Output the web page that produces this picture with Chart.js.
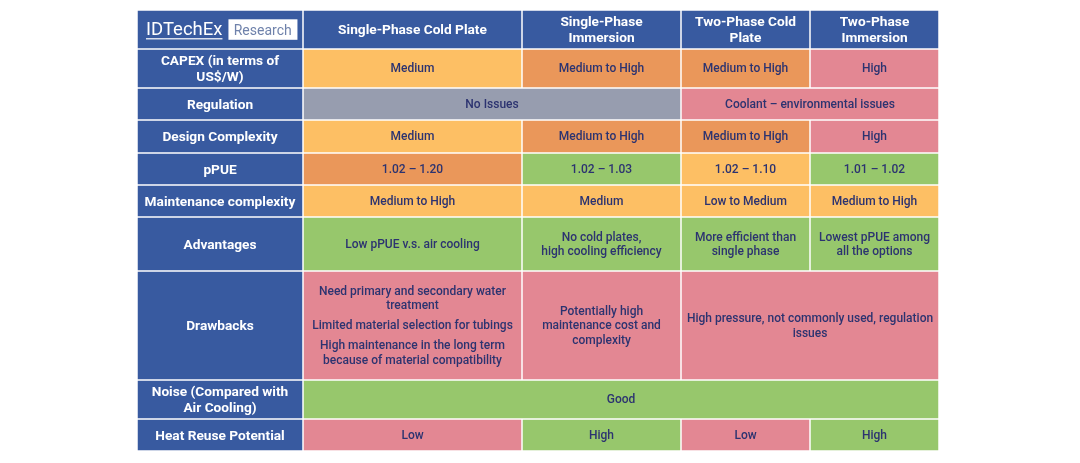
<!DOCTYPE html>
<html><head><meta charset="utf-8">
<script src="https://cdn.jsdelivr.net/npm/chart.js@4"></script>
<style>html,body{margin:0;padding:0;background:#fff;}#wrap{width:1080px;height:463px;position:relative;}</style>
</head><body><div id="wrap"><canvas id="c"></canvas></div>
<script>
// ---- data ----
const brand = 'IDTechEx';
const brandTag = 'Research';
const columns = ['Single-Phase Cold Plate', 'Single-Phase\nImmersion', 'Two-Phase Cold\nPlate', 'Two-Phase\nImmersion'];
const rowLabels = ['CAPEX (in terms of\nUS$/W)', 'Regulation', 'Design Complexity', 'pPUE', 'Maintenance complexity', 'Advantages', 'Drawbacks', 'Noise (Compared with\nAir Cooling)', 'Heat Reuse Potential'];
// each cell: [text, column span, rating]
const capex = [['Medium', 1, 'mid'], ['Medium to High', 1, 'midHigh'], ['Medium to High', 1, 'midHigh'], ['High', 1, 'high']];
const regulation = [['No Issues', 2, 'neutral'], ['Coolant – environmental issues', 2, 'high']];
const designComplexity = [['Medium', 1, 'mid'], ['Medium to High', 1, 'midHigh'], ['Medium to High', 1, 'midHigh'], ['High', 1, 'high']];
const pPUE = [['1.02 – 1.20', 1, 'midHigh'], ['1.02 – 1.03', 1, 'good'], ['1.02 – 1.10', 1, 'mid'], ['1.01 – 1.02', 1, 'good']];
const maintenance = [['Medium to High', 1, 'mid'], ['Medium', 1, 'mid'], ['Low to Medium', 1, 'mid'], ['Medium to High', 1, 'mid']];
const advantages = [['Low pPUE v.s. air cooling', 1, 'good'], ['No cold plates,\nhigh cooling efficiency', 1, 'good'], ['More efficient than\nsingle phase', 1, 'good'], ['Lowest pPUE among\nall the options', 1, 'good']];
const drawbacks = [['Need primary and secondary water\ntreatment|Limited material selection for tubings|High maintenance in the long term\nbecause of material compatibility', 1, 'high'], ['Potentially high\nmaintenance cost and\ncomplexity', 1, 'high'], ['High pressure, not commonly used, regulation\nissues', 2, 'high']];
const noise = [['Good', 4, 'good']];
const heatReuse = [['Low', 1, 'high'], ['High', 1, 'good'], ['Low', 1, 'high'], ['High', 1, 'good']];
const tableRows = [capex, regulation, designComplexity, pPUE, maintenance, advantages, drawbacks, noise, heatReuse];

// ---- layout & style ----
const colWidths = [166, 219, 159, 129, 129];
const rowHeights = [39, 39, 32, 33, 32, 32, 54, 109, 39, 32];
const ratingColors = { mid: '#fdbf64', midHigh: '#ea975a', high: '#e38793', neutral: '#979daf', good: '#97c76c' };
const headerBlue = '#385aa0';
const cellText = '#2c3370';
const FONT = 'Roboto, "Open Sans", sans-serif';

const colEdges = [0]; colWidths.forEach(w => colEdges.push(colEdges[colEdges.length - 1] + w));
const rowEdges = [0]; rowHeights.forEach(h => rowEdges.push(rowEdges[rowEdges.length - 1] + h));

// cell centres as an (invisible) dataset so the scales carry the table
const cellPoints = [];
tableRows.forEach((row, r) => { let c = 1; row.forEach(cell => { cellPoints.push({ x: (colEdges[c] + colEdges[c + cell[1]]) / 2, y: (rowEdges[r + 1] + rowEdges[r + 2]) / 2 }); c += cell[1]; }); });

function drawLines(ctx, text, cx, cy, lh, pgap) {
  const paras = text.split('|').map(p => p.split('\n'));
  let total = 0; paras.forEach((p, i) => { total += p.length * lh + (i ? pgap : 0); });
  let y = cy - total / 2 + lh / 2;
  paras.forEach((p, i) => { if (i) y += pgap; p.forEach(l => { ctx.fillText(l, cx, y); y += lh; }); });
}

const tablePlugin = {
  id: 'tablePlugin',
  beforeDatasetsDraw(chart) {
    const { ctx, scales: { x, y } } = chart;
    const rect = (c0, c1, r0, r1, color) => {
      const xa = x.getPixelForValue(colEdges[c0]), xb = x.getPixelForValue(colEdges[c1]);
      const ya = y.getPixelForValue(rowEdges[r0]), yb = y.getPixelForValue(rowEdges[r1]);
      ctx.fillStyle = color;
      ctx.fillRect(xa + 0.75, ya + 0.75, xb - xa - 1.5, yb - ya - 1.5);
      return { cx: (xa + xb) / 2, cy: (ya + yb) / 2, x0: xa };
    };
    ctx.save();
    ctx.textAlign = 'center'; ctx.textBaseline = 'middle';
    // header row
    const logo = rect(0, 1, 0, 1, headerBlue);
    columns.forEach((name, i) => {
      const p = rect(i + 1, i + 2, 0, 1, headerBlue);
      ctx.fillStyle = '#ffffff'; ctx.font = `bold 13.7px ${FONT}`;
      drawLines(ctx, name, p.cx, p.cy + 1.5, 16, 0);
    });
    // logo
    ctx.textAlign = 'left'; ctx.textBaseline = 'alphabetic';
    ctx.fillStyle = '#ffffff'; ctx.font = `18.5px ${FONT}`;
    const lx = logo.x0 + 9;
    const base = logo.cy + 5.3;
    ctx.fillText(brand, lx, base);
    const bw = ctx.measureText(brand).width;
    ctx.fillRect(lx, base + 3.4, bw, 1.2);
    const boxX = lx + bw + 6;
    ctx.fillRect(boxX, base - 15.5, 69, 20.5);
    ctx.fillStyle = '#6f82ab'; ctx.font = `14px ${FONT}`;
    ctx.fillText(brandTag, boxX + 5.3, base);
    ctx.textAlign = 'center'; ctx.textBaseline = 'middle';
    // body rows
    tableRows.forEach((row, r) => {
      const p = rect(0, 1, r + 1, r + 2, headerBlue);
      ctx.fillStyle = '#ffffff'; ctx.font = `bold 13.7px ${FONT}`;
      drawLines(ctx, rowLabels[r], p.cx, p.cy + 1.3, 16, 0);
      let c = 1;
      row.forEach(cell => {
        const q = rect(c, c + cell[1], r + 1, r + 2, ratingColors[cell[2]]);
        ctx.fillStyle = cellText; ctx.font = `500 12px ${FONT}`;
        drawLines(ctx, cell[0], q.cx, q.cy + 0.8, 14.5, 5.5);
        c += cell[1];
      });
    });
    ctx.restore();
  }
};

new Chart(document.getElementById('c'), {
  type: 'scatter',
  data: { datasets: [{ data: cellPoints, pointRadius: 0, pointHoverRadius: 0 }] },
  options: {
    responsive: true, maintainAspectRatio: false, animation: false,
    layout: { padding: { left: 137, right: 141, top: 10, bottom: 12 } },
    plugins: { legend: { display: false }, tooltip: { enabled: false } },
    scales: {
      x: { type: 'linear', min: 0, max: colEdges[colEdges.length - 1], display: false },
      y: { type: 'linear', min: 0, max: rowEdges[rowEdges.length - 1], reverse: true, display: false }
    }
  },
  plugins: [tablePlugin]
});
</script>
</body></html>
